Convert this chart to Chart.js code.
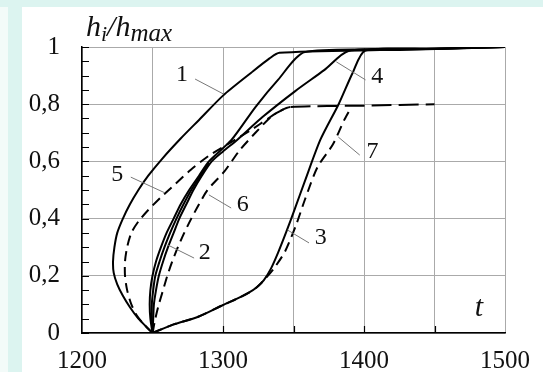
<!DOCTYPE html>
<html lang="ru">
<head>
  <meta charset="UTF-8">
  <title>h_i/h_max</title>
  <script src="https://cdn.jsdelivr.net/npm/chart.js"></script>
  <style>
    body { margin: 0; background: #fff; }
    .wrap { position: relative; width: 543px; height: 372px; overflow: hidden; }
    .band-top { position: absolute; left: 0; top: 0; width: 543px; height: 7px; background: #dcf4f0; }
    .band-left { position: absolute; left: 8px; top: 7px; width: 14px; height: 365px; background: #dcf4f0; }
    .band-edge { position: absolute; left: 0; top: 7px; width: 8px; height: 365px; background: #f3fbf9; }
    canvas { position: absolute; left: 0; top: 0; }
  </style>
</head>
<body>
  <div class="wrap">
    <div class="band-top"></div>
    <div class="band-edge"></div>
    <div class="band-left"></div>
    <canvas id="grafico" width="543" height="372"></canvas>
  </div>

  <script>
    // t (x) and h_i/h_max (y), one pair of arrays per curve
    const t1 = [1250, 1245, 1240, 1234, 1229, 1225, 1222.5, 1222, 1223, 1225, 1229, 1234, 1240, 1247, 1257, 1270, 1283, 1300, 1320, 1333, 1340, 1420, 1500];
    const h1 = [0, 0.025, 0.05, 0.09, 0.13, 0.17, 0.21, 0.25, 0.3, 0.35, 0.4, 0.45, 0.5, 0.55, 0.61, 0.68, 0.745, 0.83, 0.91, 0.96, 0.98, 0.99, 1];

    const t2 = [1250, 1248.5, 1248, 1248.5, 1250, 1252.5, 1256, 1260, 1265, 1270, 1276, 1283, 1290, 1306, 1323, 1339, 1358, 1430, 1500];
    const h2 = [0, 0.05, 0.1, 0.15, 0.2, 0.25, 0.3, 0.35, 0.4, 0.45, 0.5, 0.55, 0.6, 0.675, 0.79, 0.885, 0.982, 0.99, 1];

    const t2b = [1250, 1249.5, 1249.5, 1250.5, 1252, 1255, 1258.5, 1262.5, 1267, 1272, 1277.5, 1284, 1290];
    const h2b = [0, 0.05, 0.1, 0.15, 0.2, 0.25, 0.3, 0.35, 0.4, 0.45, 0.5, 0.55, 0.595];

    const t4 = [1250, 1250.5, 1251, 1252.5, 1254.5, 1257.5, 1261, 1265, 1269, 1274, 1279, 1285, 1292, 1300, 1310, 1328, 1351, 1372, 1389, 1440, 1500];
    const h4 = [0, 0.05, 0.1, 0.15, 0.2, 0.25, 0.3, 0.35, 0.4, 0.45, 0.5, 0.55, 0.6, 0.635, 0.675, 0.755, 0.845, 0.92, 0.986, 0.993, 1];

    const t3 = [1250, 1265, 1282, 1300, 1310, 1318, 1324, 1329, 1334, 1339, 1345, 1351, 1358, 1369, 1382, 1392, 1401, 1450, 1500];
    const h3 = [0, 0.03, 0.056, 0.098, 0.12, 0.14, 0.16, 0.185, 0.225, 0.28, 0.355, 0.435, 0.53, 0.675, 0.8, 0.91, 0.988, 0.994, 1];

    const t5 = [1250, 1244, 1239, 1235, 1232, 1230.5, 1230.5, 1232, 1235, 1240, 1247, 1256, 1266, 1277, 1290, 1305, 1320, 1332, 1340, 1348, 1400, 1450];
    const h5 = [0, 0.03, 0.06, 0.1, 0.15, 0.2, 0.25, 0.3, 0.35, 0.39, 0.43, 0.475, 0.52, 0.57, 0.62, 0.665, 0.71, 0.75, 0.775, 0.79, 0.795, 0.8];

    const t6 = [1250, 1252, 1254.5, 1257.5, 1260.5, 1264, 1268, 1272.5, 1277.5, 1283, 1289, 1301, 1312, 1323, 1335, 1346];
    const h6 = [0, 0.05, 0.1, 0.15, 0.2, 0.25, 0.3, 0.35, 0.4, 0.45, 0.5, 0.565, 0.64, 0.70, 0.76, 0.79];

    const t7 = [1250, 1265, 1282, 1300, 1310, 1318, 1324, 1330, 1336, 1344, 1352, 1358, 1367, 1378, 1386, 1391];
    const h7 = [0, 0.03, 0.056, 0.098, 0.12, 0.14, 0.16, 0.19, 0.225, 0.285, 0.38, 0.465, 0.58, 0.66, 0.745, 0.79];

    const xTicks = [1200, 1250, 1300, 1350, 1400, 1450, 1500];
    const xLabels = [1200, 1300, 1400, 1500];
    const yTicks = [0, 0.2, 0.4, 0.6, 0.8, 1];
    const yLabels = ['0', '0,2', '0,4', '0,6', '0,8', '1'];

    // curve numbers: text spot and leader line, in data units
    const callouts = [
      { text: '1', t: 1271, h: 0.902, from: [1280.2, 0.888], to: [1300.2, 0.836] },
      { text: '5', t: 1225, h: 0.552, from: [1234.6, 0.545], to: [1258.8, 0.49] },
      { text: '6', t: 1314, h: 0.448, from: [1290, 0.483], to: [1305.8, 0.437] },
      { text: '2', t: 1287, h: 0.28, from: [1260.8, 0.308], to: [1279.5, 0.262] },
      { text: '3', t: 1369.4, h: 0.332, from: [1345.8, 0.36], to: [1361, 0.315] },
      { text: '4', t: 1409.4, h: 0.895, from: [1380.4, 0.948], to: [1401.1, 0.885] },
      { text: '7', t: 1406, h: 0.633, from: [1381.8, 0.685], to: [1397, 0.622] }
    ];

    const pts = (ts, hs) => ts.map((t, i) => ({ x: t, y: hs[i] }));
    const serif = "'Liberation Serif', 'DejaVu Serif', serif";

    function curva(ts, hs, dashed) {
      return {
        data: pts(ts, hs),
        showLine: true,
        borderColor: '#000',
        borderWidth: 2,
        pointRadius: 0,
        tension: 0.25,
        fill: false,
        borderDash: dashed ? [10, 6] : [],
        segment: dashed ? {
          borderDash: c => (c.p0.parsed.y >= 0.789 && c.p0.parsed.x >= 1340) ? [20, 7] : [10, 6]
        } : undefined
      };
    }

    const anotaciones = {
      id: 'anotaciones',
      afterDraw(chart) {
        const { ctx, scales: { x, y }, chartArea: a } = chart;
        ctx.save();

        // inward tick marks
        ctx.strokeStyle = '#000';
        ctx.lineWidth = 1.2;
        ctx.beginPath();
        for (let v = 0; v <= 1.0001; v += 0.05) {
          const py = Math.round(y.getPixelForValue(v)) + 0.5;
          ctx.moveTo(a.left, py);
          ctx.lineTo(a.left + 7, py);
        }
        xTicks.slice(1, -1).forEach(v => {
          const px = Math.round(x.getPixelForValue(v)) + 0.5;
          ctx.moveTo(px, a.bottom);
          ctx.lineTo(px, a.bottom - 7);
        });
        ctx.stroke();

        // leader lines
        ctx.strokeStyle = '#777';
        ctx.lineWidth = 1;
        ctx.beginPath();
        callouts.forEach(c => {
          ctx.moveTo(x.getPixelForValue(c.from[0]), y.getPixelForValue(c.from[1]));
          ctx.lineTo(x.getPixelForValue(c.to[0]), y.getPixelForValue(c.to[1]));
        });
        ctx.stroke();

        // curve numbers
        ctx.fillStyle = '#111';
        ctx.font = '24px ' + serif;
        ctx.textAlign = 'center';
        ctx.textBaseline = 'middle';
        callouts.forEach(c => {
          ctx.fillText(c.text, x.getPixelForValue(c.t), y.getPixelForValue(c.h));
        });

        // axis names
        ctx.textAlign = 'left';
        ctx.textBaseline = 'alphabetic';
        let cx = a.left + 4;
        const base = a.top - 11;
        ctx.font = 'italic 30px ' + serif;
        ctx.fillText('h', cx, base); cx += ctx.measureText('h').width;
        ctx.font = 'italic 22px ' + serif;
        ctx.fillText('i', cx, base + 5); cx += ctx.measureText('i').width;
        ctx.font = 'italic 30px ' + serif;
        ctx.fillText('/h', cx, base); cx += ctx.measureText('/h').width;
        ctx.font = 'italic 25px ' + serif;
        ctx.fillText('max', cx, base + 5);

        ctx.font = 'italic 30px ' + serif;
        ctx.textAlign = 'center';
        ctx.fillText('t', a.right - 26, a.bottom - 17);

        ctx.restore();
      }
    };

    new Chart(document.getElementById('grafico'), {
      type: 'scatter',
      data: {
        datasets: [
          curva(t1, h1, false),
          curva(t2, h2, false),
          curva(t2b, h2b, false),
          curva(t4, h4, false),
          curva(t3, h3, false),
          curva(t5, h5, true),
          curva(t6, h6, true),
          curva(t7, h7, true)
        ]
      },
      options: {
        responsive: false,
        animation: false,
        devicePixelRatio: 1,
        layout: { padding: { left: 0, top: 47, right: 27, bottom: 0 } },
        plugins: { legend: { display: false }, tooltip: { enabled: false } },
        scales: {
          x: {
            type: 'linear',
            min: 1200,
            max: 1500,
            afterBuildTicks: s => { s.ticks = xTicks.map(v => ({ value: v })); },
            afterFit: s => { s.height = 39; },
            ticks: {
              callback: v => xLabels.includes(v) ? String(v) : '',
              font: { family: serif, size: 25 },
              color: '#111',
              padding: 13,
              maxRotation: 0,
              autoSkip: false
            },
            grid: { color: '#aaa', lineWidth: 1, drawTicks: false },
            border: { color: '#000', width: 1.5 }
          },
          y: {
            min: 0,
            max: 1,
            afterBuildTicks: s => { s.ticks = yTicks.map(v => ({ value: v })); },
            afterFit: s => { s.width = 82; },
            ticks: {
              callback: (v, i) => yLabels[i],
              font: { family: serif, size: 25 },
              color: '#111',
              padding: 22,
              autoSkip: false
            },
            grid: { color: '#aaa', lineWidth: 1, drawTicks: false },
            border: { color: '#000', width: 1.5 }
          }
        }
      },
      plugins: [anotaciones]
    });
  </script>
</body>
</html>
